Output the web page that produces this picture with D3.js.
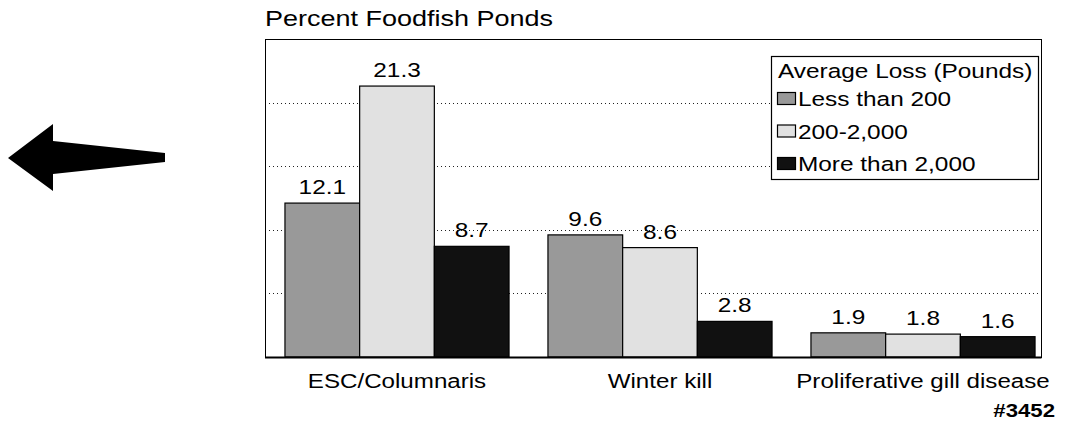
<!DOCTYPE html>
<html>
<head>
<meta charset="utf-8">
<script src="https://cdnjs.cloudflare.com/ajax/libs/d3/7.8.5/d3.min.js"></script>
<style>
  html, body { margin: 0; padding: 0; background: #fff; }
  svg { display: block; }
  text { font-family: "Liberation Sans", Arial, Helvetica, sans-serif; fill: #000; }
</style>
</head>
<body>
<svg id="chart" width="1068" height="423"></svg>
<script>
// ---- data ----
const categories = ["ESC/Columnaris", "Winter kill", "Proliferative gill disease"];
const seriesNames = ["Less than 200", "200-2,000", "More than 2,000"];
const lessThan200 = [12.1, 9.6, 1.9];
const from200To2000 = [21.3, 8.6, 1.8];
const moreThan2000 = [8.7, 2.8, 1.6];
const yTicks = [0, 5, 10, 15, 20, 25];
const chartTitle = "Percent Foodfish Ponds";
const legendTitle = "Average Loss (Pounds)";
const figureId = "#3452";

const seriesValues = [lessThan200, from200To2000, moreThan2000];
const colors = ["#999999", "#e1e1e1", "#111111"];

const svg = d3.select("#chart");

function stretchedText(sel, x, y, str, opts = {}) {
  const sx = opts.sx || 1.2;
  const t = sel.append("text")
    .attr("transform", `translate(${x},${y}) scale(${sx},1)`)
    .attr("font-size", opts.size || 20)
    .attr("text-anchor", opts.anchor || "start")
    .text(str);
  if (opts.weight) t.attr("font-weight", opts.weight);
  return t;
}

// plot frame
const plot = { left: 265, right: 1041, top: 39, bottom: 357 };

const y = d3.scaleLinear().domain([0, 25]).range([plot.bottom, plot.top]);
const x0 = d3.scaleBand().domain(categories)
  .range([265.5, 1054.5]).paddingInner(0.148).paddingOuter(0.074);
const x1 = d3.scaleBand().domain(seriesNames).range([0, x0.bandwidth()]);

// gridlines
svg.append("g").selectAll("line")
  .data(yTicks.filter(t => t > 0 && t < 25))
  .join("line")
  .attr("x1", plot.left).attr("x2", plot.right)
  .attr("y1", d => Math.round(y(d)) + 0.5).attr("y2", d => Math.round(y(d)) + 0.5)
  .attr("stroke", "#222").attr("stroke-width", 1)
  .attr("stroke-dasharray", "1,3");

// bars
const groups = svg.append("g").selectAll("g")
  .data(categories)
  .join("g")
  .attr("transform", d => `translate(${x0(d)},0)`);

const barData = (cat, ci) => seriesNames.map((s, si) => ({ s, si, v: seriesValues[si][ci] }));

groups.each(function (cat, ci) {
  const g = d3.select(this);
  const data = barData(cat, ci);
  g.selectAll("rect").data(data).join("rect")
    .attr("x", d => x1(d.s))
    .attr("width", x1.bandwidth())
    .attr("y", d => y(d.v))
    .attr("height", d => y(0) - y(d.v))
    .attr("fill", d => colors[d.si])
    .attr("stroke", "#000").attr("stroke-width", 1.2);
  data.forEach(d => {
    stretchedText(g, x1(d.s) + x1.bandwidth() / 2, y(d.v) - 9, d.v.toFixed(1),
      { anchor: "middle", size: 20, sx: 1.22 });
  });
});

// frame
svg.append("rect")
  .attr("x", plot.left + 0.5).attr("y", plot.top + 0.5)
  .attr("width", plot.right - plot.left).attr("height", plot.bottom - plot.top)
  .attr("fill", "none").attr("stroke", "#000").attr("stroke-width", 1);
svg.append("line")
  .attr("x1", plot.left).attr("x2", plot.right + 0.5)
  .attr("y1", plot.bottom + 0.5).attr("y2", plot.bottom + 0.5)
  .attr("stroke", "#000").attr("stroke-width", 2);

// category labels
categories.forEach(c => {
  stretchedText(svg, x0(c) + x0.bandwidth() / 2, 388, c, { anchor: "middle", size: 21, sx: 1.15 });
});

// title
stretchedText(svg, 265, 26, chartTitle, { size: 22.5 });

// figure id
stretchedText(svg, 1055, 417, figureId, { anchor: "end", size: 18.5, weight: "bold" });

// legend
const lg = svg.append("g");
lg.append("rect")
  .attr("x", 771.5).attr("y", 56.5).attr("width", 267).attr("height", 123)
  .attr("fill", "#fff").attr("stroke", "#000").attr("stroke-width", 1.2);
stretchedText(lg, 778, 78, legendTitle, { size: 20.5, sx: 1.19 });
seriesNames.forEach((s, i) => {
  const base = 106 + i * 32.5;
  lg.append("rect")
    .attr("x", 777.5).attr("y", base - 13.5).attr("width", 18).attr("height", 12)
    .attr("fill", colors[i]).attr("stroke", "#000").attr("stroke-width", 1.2);
  stretchedText(lg, 798, base, s, { size: 20.5, sx: 1.19 });
});

// decorative arrow
svg.append("path")
  .attr("d", "M8,158 L53,124 L53,141 L165,153 L165,162 L53,174 L53,191 Z")
  .attr("fill", "#000");
</script>
</body>
</html>
